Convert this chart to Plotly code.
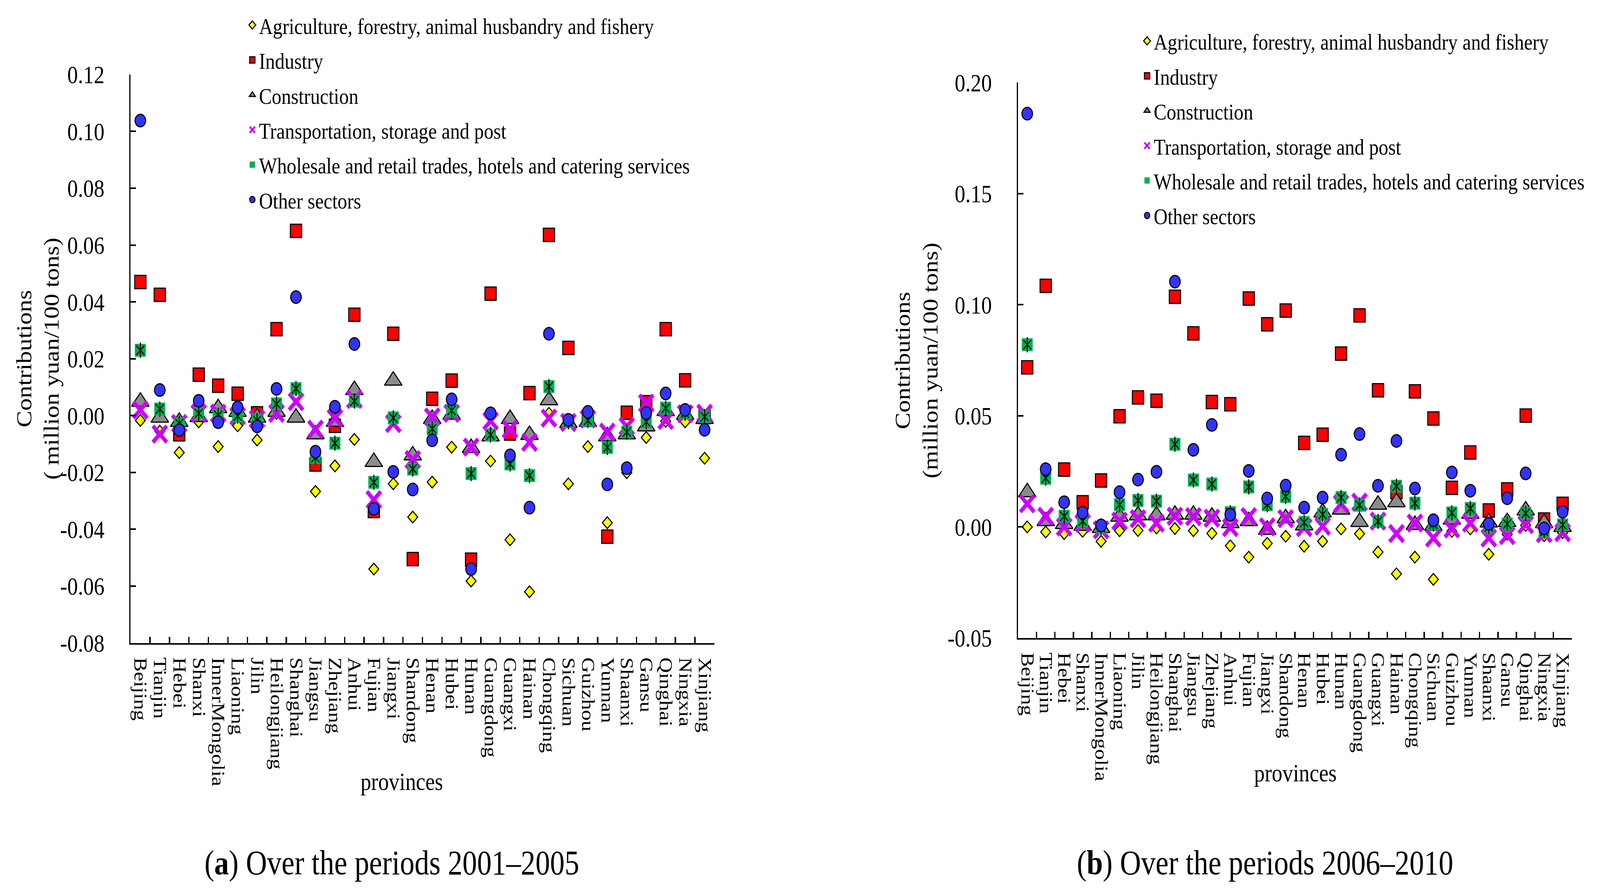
import plotly.graph_objects as go

provinces = ["Beijing", "Tianjin", "Hebei", "Shanxi", "InnerMongolia", "Liaoning", "Jilin",
             "Heilongjiang", "Shanghai", "Jiangsu", "Zhejiang", "Anhui", "Fujian", "Jiangxi",
             "Shandong", "Henan", "Hubei", "Hunan", "Guangdong", "Guangxi", "Hainan",
             "Chongqing", "Sichuan", "Guizhou", "Yunnan", "Shaanxi", "Gansu", "Qinghai",
             "Ningxia", "Xinjiang"]

series_names = ["Agriculture, forestry, animal husbandry and fishery", "Industry", "Construction",
                "Transportation, storage and post",
                "Wholesale and retail trades, hotels and catering services", "Other sectors"]

y_ticks_a = [-0.08, -0.06, -0.04, -0.02, 0.00, 0.02, 0.04, 0.06, 0.08, 0.10, 0.12]
y_ticks_b = [-0.05, 0.00, 0.05, 0.10, 0.15, 0.20]

# (a) 2001-2005
agri_a = [-0.0017, -0.0055, -0.013, -0.0022, -0.0109, -0.0036, -0.0086, 0.0008, 0.0, -0.0267,
          -0.0177, -0.0084, -0.054, -0.024, -0.0357, -0.0234, -0.0111, -0.0582, -0.016, -0.0437,
          -0.062, 0.0008, -0.024, -0.0109, -0.0377, -0.0201, -0.0077, -0.002, -0.0022, -0.015]
ind_a = [0.047, 0.0425, -0.0066, 0.0144, 0.0105, 0.0077, 0.0008, 0.0304, 0.065, -0.0172,
         -0.0036, 0.0355, -0.0336, 0.0288, -0.0505, 0.0059, 0.0123, -0.0507, 0.0429, -0.0063,
         0.0079, 0.0636, 0.0238, -0.0015, -0.0426, 0.001, 0.0047, 0.0304, 0.0124, -0.0005]
cons_a = [0.0049, -0.0007, -0.0022, -0.0005, 0.0026, 0.0013, -0.0007, 0.0013, -0.0007, -0.0066,
          -0.0022, 0.009, -0.0163, 0.0123, -0.014, -0.0012, 0.0003, -0.0114, -0.0073, -0.0012,
          -0.0068, 0.0054, -0.0026, -0.0022, -0.0073, -0.0066, -0.0038, 0.0016, 0.0003, -0.0012]
trans_a = [0.002, -0.0065, -0.0028, 0.0008, 0.0008, -0.0002, -0.0012, 0.0008, 0.0049, -0.0048,
           -0.0009, 0.0057, -0.0296, -0.0028, -0.0155, -0.0005, 0.0008, -0.0111, -0.0019, -0.0048,
           -0.0094, -0.0009, -0.0024, -0.0012, -0.0058, -0.0038, 0.0044, -0.0017, 0.0006, 0.0008]
whole_a = [0.023, 0.0023, -0.0028, 0.0008, 0.0001, -0.0002, -0.0017, 0.0041, 0.0095, -0.0148,
           -0.0097, 0.0051, -0.0235, -0.0008, -0.0188, -0.0046, 0.0018, -0.0204, -0.0068, -0.017,
           -0.0211, 0.0102, -0.0022, -0.0017, -0.0112, -0.0058, -0.0022, 0.0026, 0.0008, -0.0004]
other_a = [0.1038, 0.009, -0.0051, 0.0052, -0.0023, 0.0029, -0.0038, 0.0094, 0.0417, -0.0127,
           0.0031, 0.0252, -0.0328, -0.0198, -0.026, -0.0087, 0.0057, -0.054, 0.0008, -0.014,
           -0.0324, 0.0288, -0.0015, 0.0013, -0.0242, -0.0185, 0.0009, 0.0078, 0.002, -0.005]

# (b) 2006-2010
agri_b = [0.0, -0.0023, -0.003, -0.002, -0.0065, -0.0017, -0.0016, -0.0005, -0.0007, -0.0017,
          -0.0029, -0.0085, -0.0136, -0.0074, -0.0042, -0.0087, -0.0065, -0.0009, -0.0031, -0.0113,
          -0.0211, -0.0136, -0.0236, -0.002, -0.0009, -0.0123, -0.0033, 0.0007, -0.0039, -0.0026]
ind_b = [0.0718, 0.1085, 0.0258, 0.0111, 0.0209, 0.0498, 0.0583, 0.0568, 0.1036, 0.0871,
         0.0562, 0.0552, 0.1028, 0.0912, 0.0974, 0.0378, 0.0415, 0.078, 0.0952, 0.0615,
         0.0156, 0.061, 0.0488, 0.0176, 0.0335, 0.0074, 0.0169, 0.0501, 0.0033, 0.0104]
cons_b = [0.0156, 0.0026, 0.0013, 0.0005, -0.0005, 0.0046, 0.0052, 0.0052, 0.0055, 0.0055,
          0.0046, 0.0017, 0.0026, -0.0013, 0.0039, 0.0007, 0.0065, 0.0078, 0.0022, 0.01,
          0.0111, 0.0009, 0.0005, 0.0033, 0.0059, 0.002, 0.0022, 0.0074, 0.0017, 0.0]
trans_b = [0.0104, 0.0048, 0.0, 0.0017, -0.0013, 0.0026, 0.0037, 0.0017, 0.0048, 0.0046,
           0.0039, -0.0003, 0.0046, 0.0, 0.0037, -0.0003, 0.0003, 0.0104, 0.0111, 0.0026,
           -0.003, 0.0017, -0.005, -0.0009, 0.0017, -0.005, -0.0039, 0.001, -0.003, -0.0026]
whole_b = [0.082, 0.0219, 0.0048, 0.0026, -0.0003, 0.01, 0.0119, 0.0116, 0.0372, 0.0211,
           0.0193, 0.0064, 0.018, 0.01, 0.0137, 0.002, 0.0056, 0.0132, 0.0098, 0.0025,
           0.0183, 0.0107, 0.0013, 0.0063, 0.0083, 0.0, 0.0013, 0.0061, -0.002, 0.0009]
other_b = [0.186, 0.026, 0.0111, 0.0064, 0.0007, 0.0156, 0.0213, 0.0248, 0.1104, 0.0347,
           0.0459, 0.0055, 0.0252, 0.0128, 0.0186, 0.0087, 0.0132, 0.0325, 0.0418, 0.0185,
           0.0387, 0.0173, 0.003, 0.0245, 0.0163, 0.0014, 0.0129, 0.0241, -0.0007, 0.0068]

FONT = "Liberation Serif"
BLACK = "#000000"
FIG_W, FIG_H = 4820, 2292

fig = go.Figure()


def add_panel(data, xa, ya, legend_name):
    agri, ind, cons, trans, whole, other = data
    common = dict(x=provinces, mode="markers", xaxis=xa, yaxis=ya, legend=legend_name,
                  hoverinfo="x+y")
    fig.add_trace(go.Scatter(y=agri, name=series_names[0], legendgroup="g0",
                             marker=dict(symbol="diamond", size=23, color="#FFFF00",
                                         line=dict(color=BLACK, width=3)), **common))
    fig.add_trace(go.Scatter(y=ind, name=series_names[1], legendgroup="g1",
                             marker=dict(symbol="square", size=34, color="#FF0000",
                                         line=dict(color=BLACK, width=3)), **common))
    fig.add_trace(go.Scatter(y=cons, name=series_names[2], legendgroup="g2",
                             marker=dict(symbol="triangle-up", size=46, color="#8C8C8C",
                                         line=dict(color=BLACK, width=3)), **common))
    fig.add_trace(go.Scatter(y=trans, name=series_names[3], legendgroup="g3",
                             marker=dict(symbol="x-thin", size=42, color="#CC00FF",
                                         line=dict(color="#CC00FF", width=11)), **common))
    fig.add_trace(go.Scatter(y=whole, name=series_names[4], legendgroup="g4",
                             marker=dict(symbol="square", size=33, color="#00B050",
                                         line=dict(width=0)), **common))
    fig.add_trace(go.Scatter(y=whole, name=series_names[4], legendgroup="g4", showlegend=False,
                             marker=dict(symbol="x-thin", size=24, color=BLACK,
                                         line=dict(color=BLACK, width=3)), **common))
    fig.add_trace(go.Scatter(y=whole, name=series_names[4], legendgroup="g4", showlegend=False,
                             marker=dict(symbol="line-ns", size=28, color=BLACK,
                                         line=dict(color=BLACK, width=3)), **common))
    fig.add_trace(go.Scatter(y=other, name=series_names[5], legendgroup="g5",
                             marker=dict(symbol="circle", size=32, color="#3333FF",
                                         line=dict(color=BLACK, width=3)), **common))


add_panel([agri_a, ind_a, cons_a, trans_a, whole_a, other_a], "x", "y", "legend")
add_panel([agri_b, ind_b, cons_b, trans_b, whole_b, other_b], "x2", "y2", "legend2")

xcommon = dict(type="category", range=[-0.5, 29.5], showline=True, linecolor=BLACK, linewidth=4,
               ticks="inside", ticklen=16, tickwidth=4, tickcolor=BLACK, tickson="boundaries",
               tickmode="array", tickvals=provinces, ticktext=provinces,
               tickangle=90, tickfont=dict(family=FONT, size=55, color=BLACK),
               showgrid=False, zeroline=False, ticklabelstandoff=22)
ycommon = dict(showline=True, linecolor=BLACK, linewidth=4, ticks="inside", ticklen=16,
               tickwidth=4, tickcolor=BLACK, tickfont=dict(family=FONT, size=64, color=BLACK),
               showgrid=False, zeroline=False, ticklabelstandoff=62, tickmode="array")

legend_common = dict(font=dict(family=FONT, size=58, color=BLACK), bgcolor="rgba(0,0,0,0)",
                     xanchor="left", yanchor="top", tracegroupgap=11, itemwidth=30)

fig.update_layout(
    width=FIG_W, height=FIG_H,
    margin=dict(l=0, r=0, t=0, b=0),
    paper_bgcolor="white", plot_bgcolor="white",
    font=dict(family=FONT, color=BLACK),
    xaxis=dict(domain=[0.0813, 0.4465], anchor="y", **xcommon),
    yaxis=dict(domain=[0.2744, 0.9298], anchor="x", range=[-0.08, 0.12], tickvals=y_ticks_a,
               ticktext=[f"{v:.2f}" for v in y_ticks_a], **ycommon),
    xaxis2=dict(domain=[0.6365, 0.983], anchor="y2", **xcommon),
    yaxis2=dict(domain=[0.2801, 0.9206], anchor="x2", range=[-0.05, 0.20], tickvals=y_ticks_b,
                ticktext=[f"{v:.2f}" for v in y_ticks_b], **ycommon),
    legend=dict(x=0.1533, y=1.0068, **legend_common),
    legend2=dict(x=0.7131, y=0.9885, **legend_common),
    showlegend=True,
)

ann_font = dict(family=FONT, size=64, color=BLACK)
fig.add_annotation(text="Contributions<br>( million yuan/100 tons)", textangle=-90,
                   xref="paper", yref="paper", x=0.0232, y=0.602, showarrow=False,
                   xanchor="center", yanchor="middle", font=ann_font)
fig.add_annotation(text="Contributions<br>(million yuan/100 tons)", textangle=-90,
                   xref="paper", yref="paper", x=0.573, y=0.600, showarrow=False,
                   xanchor="center", yanchor="middle", font=ann_font)
fig.add_annotation(text="provinces", xref="paper", yref="paper", x=0.251, y=0.1144,
                   showarrow=False, xanchor="center", yanchor="middle", font=ann_font)
fig.add_annotation(text="provinces", xref="paper", yref="paper", x=0.810, y=0.1243,
                   showarrow=False, xanchor="center", yanchor="middle", font=ann_font)
cap_font = dict(family=FONT, size=88, color=BLACK)
fig.add_annotation(text="(<b>a</b>) Over the periods 2001–2005", xref="paper", yref="paper",
                   x=0.2448, y=0.021, showarrow=False, xanchor="center", yanchor="middle",
                   font=cap_font)
fig.add_annotation(text="(<b>b</b>) Over the periods 2006–2010", xref="paper", yref="paper",
                   x=0.791, y=0.021, showarrow=False, xanchor="center", yanchor="middle",
                   font=cap_font)

# The viewing window may be narrower than the figure: fit the whole figure into it.
fit_js = """
var gd = document.getElementById('{plot_id}');
document.documentElement.style.margin = '0';
document.documentElement.style.overflow = 'hidden';
document.body.style.margin = '0';
document.body.style.overflow = 'hidden';
var sx = Math.min(1, window.innerWidth / %d);
var sy = Math.min(1, window.innerHeight / %d);
gd.style.transformOrigin = '0 0';
gd.style.transform = 'scale(' + sx + ',' + sy + ')';
""" % (FIG_W, FIG_H)

fig.write_html("out.html", post_script=fit_js, config={"displayModeBar": False})
